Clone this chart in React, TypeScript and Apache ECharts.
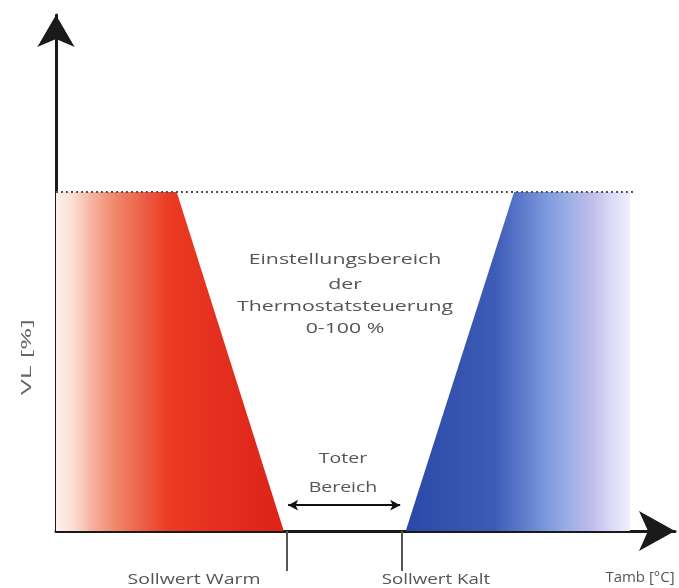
import React, { useEffect, useRef } from "react";
import * as echarts from "echarts";

// Shapes (x in abstract temperature units 0..100, y = VL in % of axis 0..100)
const topLevel = 65.7;
const redArea: [number, number][] = [
  [0, topLevel],
  [19.5, topLevel],
  [36.8, 0],
];
const blueArea: [number, number][] = [
  [56.5, 0],
  [74.0, topLevel],
  [92.7, topLevel],
];
const maxLine: [number, number][] = [
  [0, topLevel],
  [93.7, topLevel],
];
const setpoints = [37.2, 55.9]; // Sollwert Warm, Sollwert Kalt
const deadBandY = 5.0;

const centerLines = ["Einstellungsbereich", "der", "Thermostatsteuerung", "0-100 %"];
const deadBandLines = ["Toter", "Bereich"];
const xLabels = ["Sollwert Warm", "Sollwert Kalt", "Tamb [°C]"];
const yLabel = "VL [%]";

const FONT = '"Open Sans", "Liberation Sans", sans-serif';
const TEXT_COLOR = "#555555";

export default function App() {
  const ref = useRef<HTMLDivElement>(null);

  useEffect(() => {
    if (!ref.current) return;
    const chart = echarts.init(ref.current, undefined, { renderer: "svg" });

    const txt = (text: string, x: number, y: number, size = 15, sx = 1.3, rot = 0, color = TEXT_COLOR) => ({
      type: "text",
      x,
      y,
      rotation: rot,
      scaleX: sx,
      silent: true,
      z: 100,
      style: {
        text,
        fill: color,
        font: `${size}px ${FONT}`,
        textAlign: "center",
        textVerticalAlign: "middle",
      },
    });

    const graphics: any[] = [];
    const centerY = [258, 283, 305, 327];
    centerLines.forEach((t, i) => graphics.push(txt(t, 345, centerY[i], 15, 1.42)));
    const dbY = [457, 486];
    deadBandLines.forEach((t, i) => graphics.push(txt(t, 343, dbY[i], 15, 1.3)));
    graphics.push(txt(xLabels[0], 194, 578, 15, 1.3));
    graphics.push(txt(xLabels[1], 436, 578, 15, 1.25));
    graphics.push(txt(xLabels[2], 640, 576, 15, 1.0));
    graphics.push(txt(yLabel, 25, 357, 14, 1.9, Math.PI / 2, "#666666"));

    chart.setOption({
      animation: false,
      grid: { left: 56, top: 15, width: 619, height: 516, containLabel: false },
      xAxis: {
        type: "value",
        min: 0,
        max: 100,
        splitLine: { show: false },
        axisLabel: { show: false },
        axisLine: {
          show: true,
          symbol: ["none", "arrow"],
          symbolSize: [30, 36],
          lineStyle: { color: "#1a1a1a", width: 3 },
        },
        axisTick: {
          show: true,
          customValues: setpoints,
          length: 40,
          lineStyle: { color: "#555", width: 2 },
        },
      },
      yAxis: {
        type: "value",
        min: 0,
        max: 100,
        splitLine: { show: false },
        axisLabel: { show: false },
        axisTick: { show: false },
        axisLine: {
          show: true,
          symbol: ["none", "arrow"],
          symbolSize: [28, 32],
          lineStyle: { color: "#1a1a1a", width: 3 },
        },
      },
      series: [
        {
          type: "line",
          data: redArea,
          symbol: "none",
          lineStyle: { width: 0 },
          areaStyle: {
            origin: "start",
            opacity: 1,
            color: new echarts.graphic.LinearGradient(0, 0, 1, 0, [
              { offset: 0, color: "#fdf1ea" },
              { offset: 0.08, color: "#fbdcd2" },
              { offset: 0.16, color: "#f5b09e" },
              { offset: 0.26, color: "#ef886a" },
              { offset: 0.38, color: "#ec5f46" },
              { offset: 0.5, color: "#eb3a22" },
              { offset: 1, color: "#dc221a" },
            ]),
          },
          z: 1,
        },
        {
          type: "line",
          data: blueArea,
          symbol: "none",
          lineStyle: { width: 0 },
          areaStyle: {
            origin: "start",
            opacity: 1,
            color: new echarts.graphic.LinearGradient(0, 0, 1, 0, [
              { offset: 0, color: "#2a48a6" },
              { offset: 0.4, color: "#3d5cb6" },
              { offset: 0.5, color: "#5876c8" },
              { offset: 0.62, color: "#7a96dc" },
              { offset: 0.72, color: "#9aaee6" },
              { offset: 0.82, color: "#bdb9e9" },
              { offset: 0.92, color: "#dcdaf6" },
              { offset: 1, color: "#efeefc" },
            ]),
          },
          z: 1,
        },
        {
          type: "line",
          data: maxLine,
          symbol: "none",
          lineStyle: { color: "#555", width: 2, type: [2, 3] },
          z: 3,
        },
        {
          type: "line",
          data: [],
          markLine: {
            silent: true,
            symbol: ["arrow", "arrow"],
            symbolSize: [8, 10],
            label: { show: false },
            lineStyle: { color: "#111", width: 2, type: "solid" },
            data: [
              [
                { coord: [setpoints[0] + 0.3, deadBandY] },
                { coord: [setpoints[1] - 0.3, deadBandY] },
              ],
            ],
          },
          z: 4,
        },
      ],
      graphic: graphics,
    });

    return () => chart.dispose();
  }, []);

  return (
    <div
      ref={ref}
      style={{ position: "fixed", left: 0, top: 0, width: 679, height: 588 }}
    />
  );
}
